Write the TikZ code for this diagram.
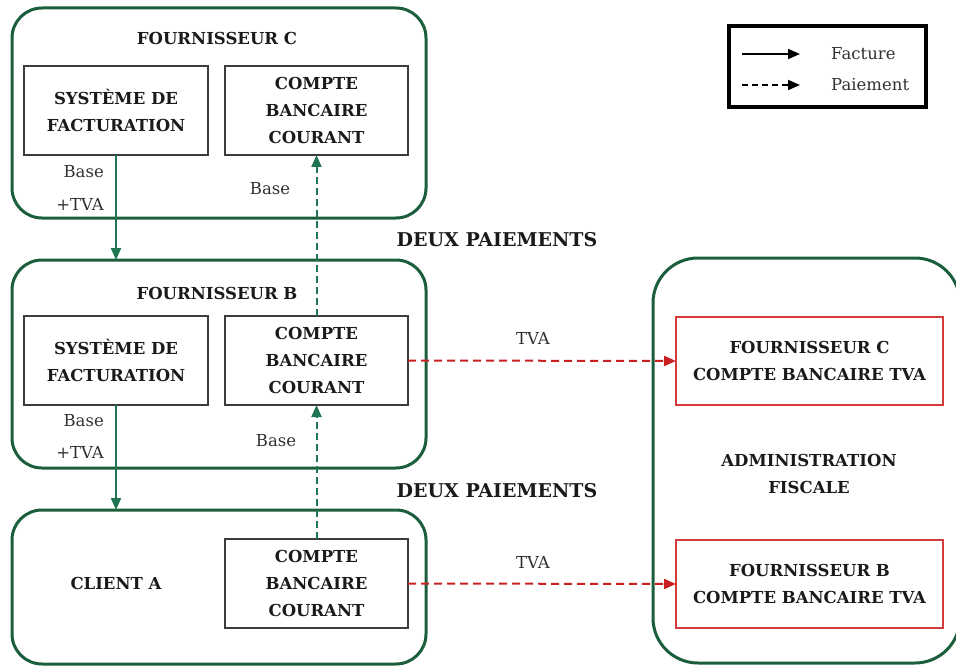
\documentclass[tikz,border=0pt]{standalone}
\usepackage{fontspec}
\setmainfont{DejaVu Serif}
\usetikzlibrary{arrows.meta}
\definecolor{dgreen}{HTML}{1B5E3B}
\definecolor{agreen}{HTML}{1E7550}
\definecolor{dred}{HTML}{C82020}
\definecolor{bred}{HTML}{D43A3A}
\definecolor{ink}{HTML}{1A1A1A}
\tikzset{
  x=1pt, y=-1pt,
  tip/.style={-{Triangle[length=12pt,width=10pt]}},
  outerbox/.style={draw=dgreen, line width=3pt, rounded corners=30pt, inner sep=0pt, outer sep=0pt},
  innerbox/.style={draw=ink!85, line width=2pt, inner sep=0pt, outer sep=0pt, align=center,
     font=\fontsize{16.5}{27}\selectfont\bfseries, text=ink, minimum width=183pt, minimum height=89pt},
  redbox/.style={innerbox, draw=bred, line width=1.6pt, minimum width=267pt, minimum height=88pt},
  title/.style={font=\fontsize{16.5}{27}\selectfont\bfseries, text=ink, align=center, inner sep=0pt},
  bigtitle/.style={title, font=\fontsize{19}{27}\selectfont\bfseries},
  lbl/.style={font=\fontsize{16.5}{20}\selectfont, text=ink!90, inner sep=0pt},
  facture/.style={draw=agreen, line width=2pt, tip},
  paiement/.style={draw=agreen, line width=2pt, dash pattern=on 7pt off 4pt, tip},
  tva/.style={draw=dred, line width=2pt, dash pattern=on 8pt off 5pt, tip},
}
\begin{document}
\begin{tikzpicture}
\useasboundingbox (0,0) rectangle (956,666);
\begin{scope}
\clip (0,0) rectangle (956,666);
% outer boxes
\node[outerbox, minimum width=414pt, minimum height=210pt] (FC) at (219,113) {};
\node[outerbox, minimum width=414pt, minimum height=208pt] (FB) at (219,364) {};
\node[outerbox, minimum width=414pt, minimum height=154pt] (CA) at (219,587) {};
\node[outerbox, rounded corners=45pt, minimum width=307pt, minimum height=405pt] (AF) at (806.5,460.5) {};
\end{scope}
% titles
\node[title] (tFC) at (217,38) {FOURNISSEUR C};
\node[title] (tFB) at (217,293) {FOURNISSEUR B};
\node[title] (tCA) at (116,583) {CLIENT A};
\node[title] (tAF) at (809,474) {ADMINISTRATION\\FISCALE};
\node[bigtitle] (dp1) at (497,240) {DEUX PAIEMENTS};
\node[bigtitle] (dp2) at (497,491) {DEUX PAIEMENTS};
% inner boxes
\node[innerbox, minimum width=184pt] (SC) at (116,110.5) {SYSTÈME DE\\FACTURATION};
\node[innerbox] (KC) at (316.5,110.5) {COMPTE\\BANCAIRE\\COURANT};
\node[innerbox, minimum width=184pt] (SB) at (116,360.5) {SYSTÈME DE\\FACTURATION};
\node[innerbox] (KB) at (316.5,360.5) {COMPTE\\BANCAIRE\\COURANT};
\node[innerbox] (KA) at (316.5,583.5) {COMPTE\\BANCAIRE\\COURANT};
\node[redbox] (RC) at (809.5,361) {FOURNISSEUR C\\COMPTE BANCAIRE TVA};
\node[redbox] (RB) at (809.5,584) {FOURNISSEUR B\\COMPTE BANCAIRE TVA};
% connectors
\draw[facture] (SC.south) -- (SC.south |- FB.north);
\draw[facture] (SB.south) -- (SB.south |- CA.north);
\draw[paiement] (KB.north) -- (KC.south);
\draw[paiement] (KA.north) -- (KB.south);
\draw[tva] (KB.east) -- (RC.west);
\draw[tva] (KA.east) -- (RB.west);
% labels
\node[lbl, anchor=east] (l1) at (104,172) {Base};
\node[lbl, anchor=east] (l2) at (104,204) {+TVA};
\node[lbl, anchor=east] (l3) at (104,421) {Base};
\node[lbl, anchor=east] (l4) at (104,452) {+TVA};
\node[lbl] (l5) at (270,189) {Base};
\node[lbl] (l6) at (276,441) {Base};
\node[lbl] (l7) at (533,338) {TVA};
\node[lbl] (l8) at (533,562) {TVA};
% legend
\node[draw=black, line width=4pt, minimum width=197pt, minimum height=81pt, inner sep=0pt] (LG) at (827.5,66.5) {};
\coordinate (a1) at (742,54);
\coordinate (b1) at (800,54);
\coordinate (a2) at (742,85);
\coordinate (b2) at (800,85);
\draw[line width=1.8pt, tip] (a1) -- (b1);
\draw[line width=1.8pt, dash pattern=on 6pt off 4pt, tip] (a2) -- (b2);
\node[lbl, anchor=west] (lf) at (831,54) {Facture};
\node[lbl, anchor=west] (lp) at (831,85) {Paiement};
\end{tikzpicture}
\end{document}
